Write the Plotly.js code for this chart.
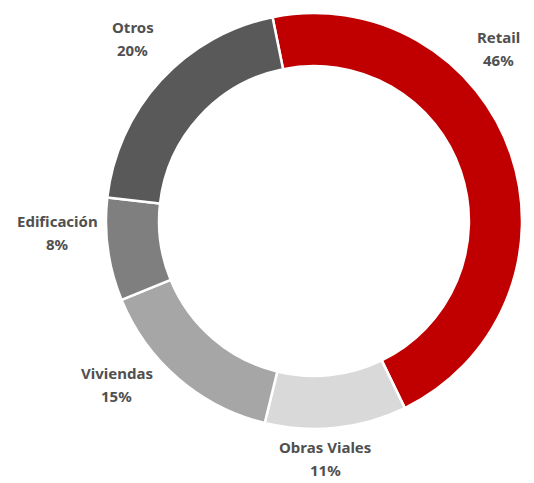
<!DOCTYPE html>
<html>
<head>
<meta charset="utf-8">
<script src="https://cdn.plot.ly/plotly-3.0.1.min.js"></script>
<style>html,body{margin:0;padding:0;background:#fff;}#chart{width:534px;height:483px;}</style>
</head>
<body>
<div id="chart"></div>
<script>
const categories = ["Retail", "Obras Viales", "Viviendas", "Edificación", "Otros"];
const shares = [46, 11, 15, 8, 20];
const sliceColors = ["#C00000", "#D9D9D9", "#A6A6A6", "#7F7F7F", "#595959"];
// label anchor points (paper coords), one per category
const labelX = [0.933, 0.609, 0.219, 0.107, 0.249];
const labelY = [0.9006, 0.0497, 0.2029, 0.5176, 0.920];

const trace = {
  type: "pie",
  labels: categories,
  values: shares,
  sort: false,
  direction: "clockwise",
  rotation: -11.5,
  hole: 0.745,
  textinfo: "none",
  hoverinfo: "label+percent",
  marker: { colors: sliceColors, line: { color: "#ffffff", width: 2.5 } },
  domain: { x: [0.1985, 0.9775], y: [0.1118, 0.9731] },
  showlegend: false
};

const labelFont = { family: "Noto Sans, Open Sans, sans-serif", size: 15, color: "#505050" };
const annotations = [];
categories.forEach((c, i) => {
  annotations.push({
    xref: "paper", yref: "paper", x: labelX[i], y: labelY[i],
    xanchor: "center", yanchor: "middle", showarrow: false, yshift: 11.5, borderpad: 0,
    text: "<b>" + c + "</b>", font: labelFont
  });
  annotations.push({
    xref: "paper", yref: "paper", x: labelX[i], y: labelY[i],
    xanchor: "center", yanchor: "middle", showarrow: false, yshift: -11.5, borderpad: 0,
    text: "<b>" + shares[i] + "%</b>", font: labelFont
  });
});

Plotly.newPlot("chart", [trace], {
  width: 534, height: 483,
  margin: { l: 0, r: 0, t: 0, b: 0 },
  paper_bgcolor: "#ffffff",
  annotations: annotations
}, { displayModeBar: false, staticPlot: true });
</script>
</body>
</html>
